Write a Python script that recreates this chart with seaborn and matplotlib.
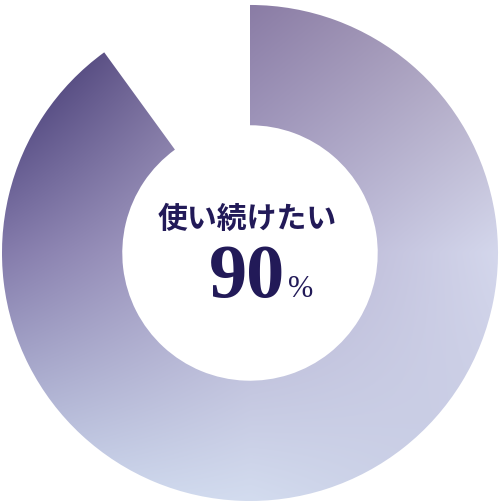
import numpy as np
import matplotlib
matplotlib.use("Agg")
import matplotlib.pyplot as plt
import seaborn as sns

# share of respondents
labels = ["使い続けたい", "その他"]
shares = [90, 10]
title_text = "使い続けたい"
value_text = "90"
unit_text = "%"

sns.set_theme(style="white")
plt.rcParams['font.family'] = ['Noto Sans CJK JP', 'DejaVu Sans']

fig = plt.figure(figsize=(5.0, 5.01), dpi=100)
ax = fig.add_axes([0, 0, 1, 1])

wedges, _ = ax.pie(shares, startangle=90, counterclock=False, radius=1.0,
                   wedgeprops=dict(width=0.485, linewidth=0, edgecolor='none'))
wedges[1].set_visible(False)
wedges[0].set_facecolor('none')

# gradient fill (3x3 color grid, bilinear)
grid = np.array([
    [[0x26, 0x1c, 0x5c], [0x8a, 0x7c, 0xa5], [0xae, 0xa4, 0xbe]],
    [[0x84, 0x7b, 0xab], [0xb2, 0xad, 0xce], [0xd4, 0xd7, 0xec]],
    [[0xca, 0xd6, 0xec], [0xd3, 0xdc, 0xef], [0xc6, 0xca, 0xe2]],
]) / 255.0
n = 300
u = np.linspace(0, 2, n)
X, Y = np.meshgrid(u, u)
i0 = np.clip(np.floor(Y).astype(int), 0, 1)
j0 = np.clip(np.floor(X).astype(int), 0, 1)
fy = (Y - i0)[..., None]
fx = (X - j0)[..., None]
img = (grid[i0, j0] * (1 - fx) * (1 - fy) + grid[i0, j0 + 1] * fx * (1 - fy)
       + grid[i0 + 1, j0] * (1 - fx) * fy + grid[i0 + 1, j0 + 1] * fx * fy)
im = ax.imshow(img, extent=(-1, 1, -1, 1), origin='upper', interpolation='bilinear', zorder=0)
im.set_clip_path(wedges[0])

ax.text(-0.01, 0.137, title_text, ha='center', va='center', fontsize=21.5,
        fontweight='bold', color='#221a58')
ax.text(0.14, -0.177, value_text, ha='right', va='baseline', fontsize=55,
        family=['Liberation Serif', 'DejaVu Serif'], fontweight='bold', color='#221a58')
ax.text(0.155, -0.177, unit_text, ha='left', va='baseline', fontsize=22,
        family=['Liberation Serif', 'DejaVu Serif'], color='#221a58')

ax.set_xlim(-1.008, 1.008)
ax.set_ylim(-1.0, 1.02)
ax.set_aspect('equal')
ax.axis('off')

fig.savefig("out.png", dpi=100, facecolor='white')
